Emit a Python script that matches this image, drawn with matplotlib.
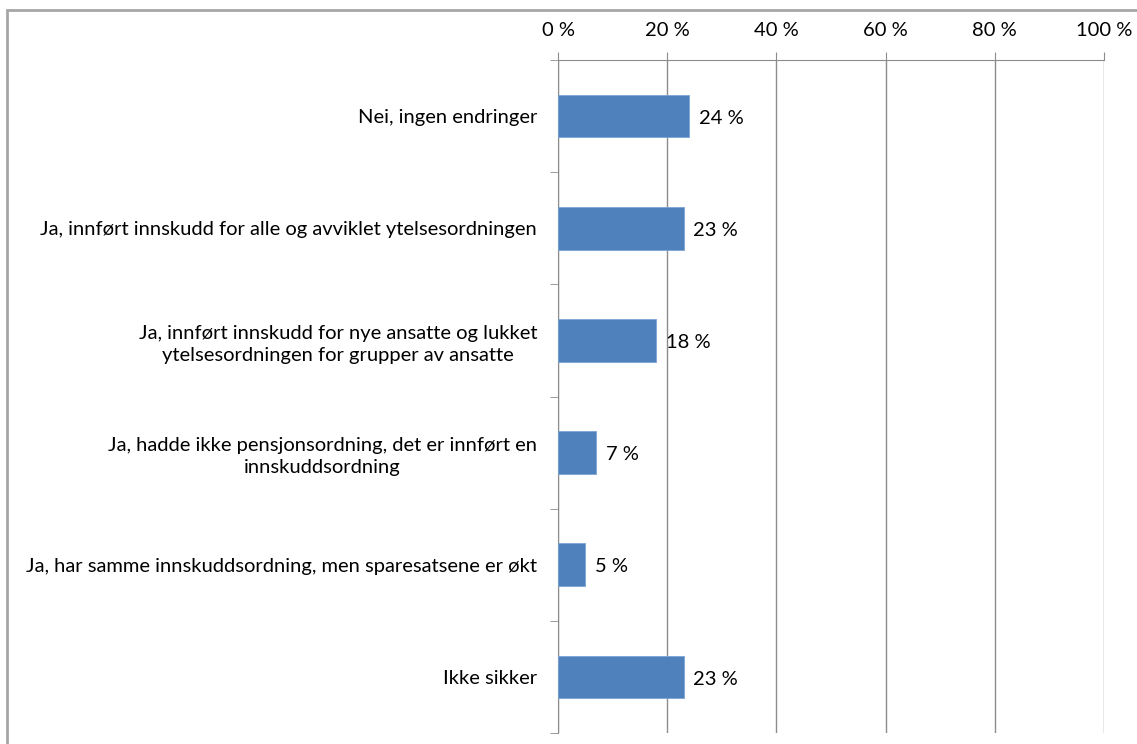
import numpy as np
import matplotlib.pyplot as plt
from matplotlib.patches import Rectangle
from matplotlib.ticker import FixedLocator

categories = [
    "Nei, ingen endringer",
    "Ja, innført innskudd for alle og avviklet ytelsesordningen",
    "Ja, innført innskudd for nye ansatte og lukket\nytelsesordningen for grupper av ansatte",
    "Ja, hadde ikke pensjonsordning, det er innført en\ninnskuddsordning",
    "Ja, har samme innskuddsordning, men sparesatsene er økt",
    "Ikke sikker",
]
values = [24, 23, 18, 7, 5, 23]
x_ticks = [0, 20, 40, 60, 80, 100]

plt.rcParams['font.family'] = ['Lato', 'DejaVu Sans']
fs = 14.5

W, H = 1137, 744
fig = plt.figure(figsize=(W / 100, H / 100), dpi=100)
ax = fig.add_axes([558 / W, 1 - 733 / H, (1104 - 558) / W, (733 - 60) / H])

grey = '#8c8c8c'
n = len(categories)
pos = np.arange(n)
ax.barh(pos, values, height=0.38, color='#4F81BD', edgecolor='#7aa3d6', linewidth=0.6, zorder=3)
ax.set_ylim(n - 0.5, -0.5)
ax.set_xlim(0, 100)

# value labels beside each bar
for p, v in zip(pos, values):
    ax.text(v + 1.8, p + 0.02, f"{v} %", va='center', ha='left', fontsize=fs, color='black', zorder=4)

# vertical gridlines and top axis
ax.xaxis.set_major_locator(FixedLocator(x_ticks))
ax.set_xticklabels([f"{t} %" for t in x_ticks])
ax.xaxis.tick_top()
ax.tick_params(axis='x', which='major', length=6, color=grey, labelsize=fs, pad=9)
ax.grid(axis='x', color=grey, linewidth=1.0, zorder=0)

# category labels on the left, tick marks at category boundaries
ax.yaxis.set_major_locator(FixedLocator(pos))
ax.set_yticklabels(categories, fontsize=fs, ha='right', multialignment='center', linespacing=1.38)
ax.tick_params(axis='y', which='major', length=0, pad=15)
ax.yaxis.set_minor_locator(FixedLocator(np.arange(n + 1) - 0.5))
ax.tick_params(axis='y', which='minor', length=6, color=grey)

for side in ['right', 'bottom']:
    ax.spines[side].set_visible(False)
ax.spines['left'].set_color(grey)
ax.spines['top'].set_color(grey)

# outer frame
fig.patches.append(Rectangle((7 / W, -0.1), 1.2, 1 - 10 / H + 0.1, transform=fig.transFigure,
                             fill=False, edgecolor='#a6a6a6', linewidth=2))

fig.savefig('out.png', dpi=100)
